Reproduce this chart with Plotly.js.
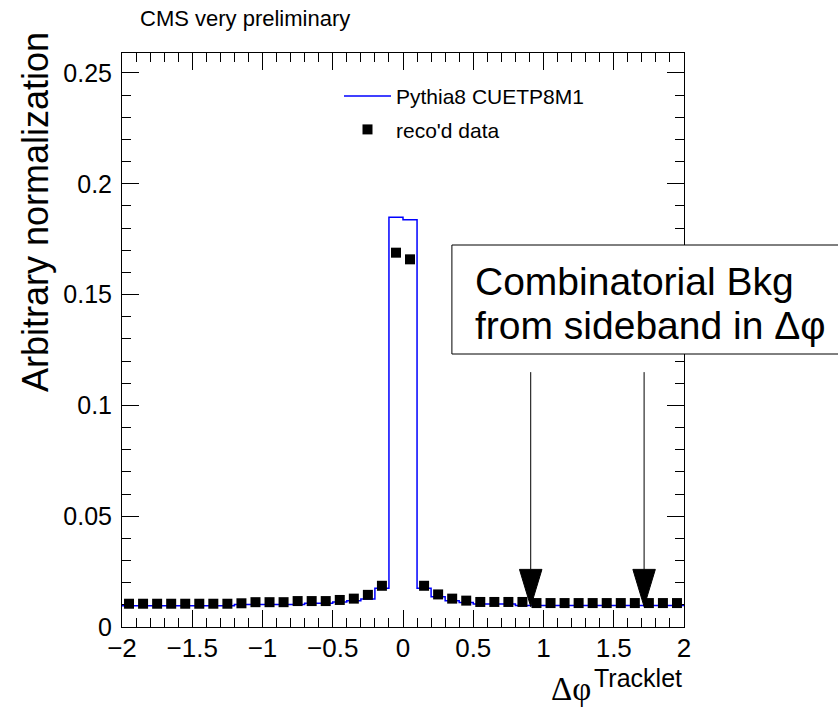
<!DOCTYPE html>
<html>
<head>
<meta charset="utf-8">
<script src="https://cdn.plot.ly/plotly-3.0.1.min.js"></script>
<style>html,body{margin:0;padding:0;background:#fff;}#chart{width:838px;height:711px;}</style>
</head>
<body>
<div id="chart"></div>
<script>
// Bin centres of the Delta-phi histogram (width 0.1)
const binCenters = [-1.95,-1.85,-1.75,-1.65,-1.55,-1.45,-1.35,-1.25,-1.15,-1.05,
  -0.95,-0.85,-0.75,-0.65,-0.55,-0.45,-0.35,-0.25,-0.15,-0.05,
  0.05,0.15,0.25,0.35,0.45,0.55,0.65,0.75,0.85,0.95,
  1.05,1.15,1.25,1.35,1.45,1.55,1.65,1.75,1.85,1.95];
const binWidth = 0.1;
// Pythia8 CUETP8M1 (blue histogram)
const pythiaValues = [0.0096,0.0096,0.0096,0.0096,0.0096,0.0096,0.0096,0.0096,0.0102,0.0102,
  0.0102,0.0102,0.0102,0.0107,0.0107,0.0113,0.0118,0.0126,0.0175,0.1849,
  0.1838,0.0175,0.0137,0.0119,0.0110,0.0104,0.0104,0.0104,0.0097,0.0097,
  0.0097,0.0097,0.0097,0.0097,0.0097,0.0097,0.0097,0.0097,0.0097,0.0097];
// reco'd data (black squares)
const dataValues = [0.0105,0.0105,0.0105,0.0105,0.0105,0.0105,0.0105,0.0105,0.0107,0.0112,
  0.0112,0.0112,0.0117,0.0117,0.0117,0.0122,0.0128,0.0145,0.0186,0.1689,
  0.1659,0.0186,0.0147,0.0128,0.0119,0.0113,0.0113,0.0113,0.0113,0.0108,
  0.0108,0.0108,0.0108,0.0108,0.0108,0.0108,0.0108,0.0108,0.0108,0.0108];
const xTickVals = [-2,-1.5,-1,-0.5,0,0.5,1,1.5,2];
const xTickText = ['\u22122','\u22121.5','\u22121','\u22120.5','0','0.5','1','1.5','2'];
const yTickVals = [0,0.05,0.1,0.15,0.2,0.25];
const yTickText = ['0','0.05','0.1','0.15','0.2','0.25'];
const arrowX = [0.909, 1.716];

// histogram outline via bin edges
const edges = binCenters.map(c => +(c - binWidth/2).toFixed(4));
edges.push(+(binCenters[binCenters.length-1] + binWidth/2).toFixed(4));
const histY = pythiaValues.concat([pythiaValues[pythiaValues.length-1]]);

const FONT = 'Liberation Sans, Arial, Helvetica, sans-serif';

const traces = [
  {type:'scatter', mode:'lines', x: edges, y: histY, name:'Pythia8 CUETP8M1',
   line:{color:'#0000ff', width:1.5, shape:'hv'}, legendgroup:'a'},
  {type:'scatter', mode:'markers', x: binCenters, y: dataValues, name:"reco'd data",
   marker:{symbol:'square', size:10, color:'#000'}, legendgroup:'b'}
];

const tipY = 0.0092, baseY = 0.026, halfW = 0.08, lineTop = 0.115;
const shapes = [
  {type:'rect', xref:'paper', yref:'paper', x0:0.587, x1:1.30, y0:0.4756, y1:0.6655,
   line:{color:'#000', width:1}, fillcolor:'#fff', layer:'above'}
];
arrowX.forEach(ax => {
  shapes.push({type:'line', xref:'x', yref:'y', x0:ax, x1:ax, y0:lineTop, y1:baseY,
    line:{color:'#000', width:1}});
  shapes.push({type:'path', xref:'x', yref:'y',
    path:`M ${ax-halfW},${baseY} L ${ax+halfW},${baseY} L ${ax},${tipY} Z`,
    fillcolor:'#000', line:{color:'#000', width:1}});
});

const layout = {
  width:838, height:711,
  margin:{l:122, r:154, t:53, b:84, pad:0},
  paper_bgcolor:'#fff', plot_bgcolor:'#fff',
  font:{family:FONT, color:'#000'},
  title:{text:'CMS very preliminary', font:{family:FONT, size:22, color:'#000'},
    xref:'container', yref:'container', x:140/838, xanchor:'left', y:1-18/711, yanchor:'middle'},
  showlegend:true,
  legend:{x:(339-122)/562, y:0.960, xanchor:'left', yanchor:'top', bgcolor:'rgba(0,0,0,0)',
    font:{family:FONT, size:21, color:'#000'}, tracegroupgap:3, itemwidth:47},
  xaxis:{range:[-2,2], tickmode:'array', tickvals:xTickVals, ticktext:xTickText,
    ticks:'inside', ticklen:17, tickwidth:1, tickcolor:'#000',
    minor:{dtick:0.1, ticks:'inside', ticklen:9, tickwidth:1, tickcolor:'#000', showgrid:false},
    showline:true, linecolor:'#000', linewidth:1, mirror:'allticks',
    showgrid:false, zeroline:false, tickfont:{family:FONT, size:26, color:'#000'},
    ticklabelstandoff:-2},
  yaxis:{range:[0,0.259], tickmode:'array', tickvals:yTickVals, ticktext:yTickText,
    ticks:'inside', ticklen:17, tickwidth:1, tickcolor:'#000',
    minor:{dtick:0.01, ticks:'inside', ticklen:9, tickwidth:1, tickcolor:'#000', showgrid:false},
    showline:true, linecolor:'#000', linewidth:1, mirror:'allticks',
    showgrid:false, zeroline:false, tickfont:{family:FONT, size:25, color:'#000'},
    ticklabelstandoff:4},
  shapes: shapes,
  annotations:[
    {text:'Arbitrary normalization', textangle:-90, xref:'paper', yref:'paper',
     x:(36-122)/562, y:(627-212)/574, xanchor:'center', yanchor:'middle', showarrow:false,
     font:{family:FONT, size:36, color:'#000'}},
    {text:'\u0394\u03c6', xref:'paper', yref:'paper', x:(593-122)/562, y:(627-689)/574,
     xanchor:'right', yanchor:'middle', showarrow:false,
     font:{family:'Liberation Serif, DejaVu Serif, serif', size:33, color:'#000'}},
    {text:'Tracklet', xref:'paper', yref:'paper', x:(684-122)/562, y:(627-678)/574,
     xanchor:'right', yanchor:'middle', showarrow:false,
     font:{family:FONT, size:25, color:'#000'}},
    {text:'Combinatorial Bkg', xref:'paper', yref:'paper', x:(473-122)/562, y:(627-281)/574,
     xanchor:'left', yanchor:'middle', showarrow:false,
     font:{family:FONT, size:39, color:'#000'}},
    {text:'from sideband in \u0394\u03c6', xref:'paper', yref:'paper', x:(473-122)/562, y:(627-325)/574,
     xanchor:'left', yanchor:'middle', showarrow:false,
     font:{family:FONT, size:39, color:'#000'}}
  ]
};

Plotly.newPlot('chart', traces, layout, {displayModeBar:false, staticPlot:true});
</script>
</body>
</html>
